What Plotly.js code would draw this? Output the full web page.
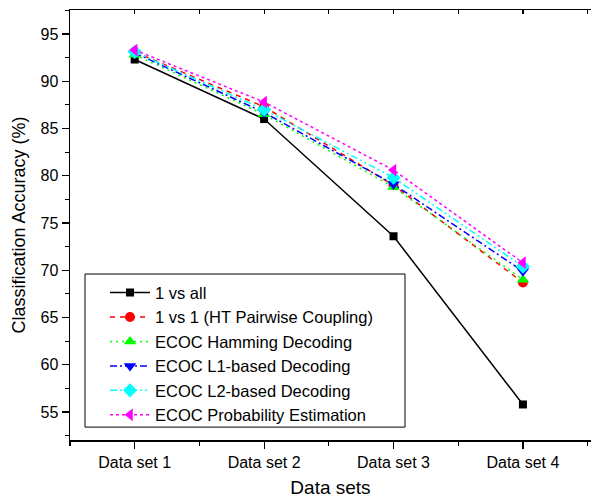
<!DOCTYPE html>
<html>
<head>
<meta charset="utf-8">
<script src="https://cdn.plot.ly/plotly-3.0.1.min.js"></script>
<style>html,body{margin:0;padding:0;background:#fff;}#chart{width:591px;height:498px;}</style>
</head>
<body>
<div id="chart"></div>
<script>
var categories = ["Data set 1", "Data set 2", "Data set 3", "Data set 4"];
var xPositions = [1, 2, 3, 4];
var oneVsAll = [92.3, 86.0, 73.6, 55.8];
var oneVsOne = [93.1, 87.3, 79.0, 68.7];
var ecocHamming = [92.8, 86.5, 78.8, 69.0];
var ecocL1 = [93.0, 86.7, 79.1, 69.9];
var ecocL2 = [93.1, 87.0, 79.8, 70.4];
var ecocProb = [93.3, 87.8, 80.6, 70.8];
var seriesNames = ["1 vs all", "1 vs 1 (HT Pairwise Coupling)", "ECOC Hamming Decoding",
  "ECOC L1-based Decoding", "ECOC L2-based Decoding", "ECOC Probability Estimation"];

var styles = [
  {color: "#000000", dash: "solid", symbol: "square", size: 8},
  {color: "#ff0000", dash: "5px,5px", symbol: "circle", size: 10},
  {color: "#00ff00", dash: "2px,4px", symbol: "triangle-up", size: 11},
  {color: "#0000ff", dash: "7px,3px,2px,3px", symbol: "triangle-down", size: 11},
  {color: "#00ffff", dash: "7px,3px,2px,3px,2px,3px", symbol: "diamond", size: 11},
  {color: "#ff00ff", dash: "3px,3px", symbol: "triangle-left", size: 11}
];
var allSeries = [oneVsAll, oneVsOne, ecocHamming, ecocL1, ecocL2, ecocProb];

var traces = allSeries.map(function (vals, i) {
  return {
    x: xPositions, y: vals, name: seriesNames[i], type: "scatter", mode: "lines+markers",
    line: {color: styles[i].color, width: 1.5, dash: styles[i].dash},
    marker: {color: styles[i].color, symbol: styles[i].symbol, size: styles[i].size}
  };
});
traces.push({x: [], y: [], xaxis: "x2", showlegend: false, hoverinfo: "skip", type: "scatter"});

var font = "'Liberation Sans', Arial, Helvetica, sans-serif";
var layout = {
  width: 591, height: 498,
  margin: {l: 70, r: 0, t: 10, b: 58},
  paper_bgcolor: "#fff", plot_bgcolor: "#fff",
  font: {family: font, color: "#000", size: 16},
  showlegend: true,
  legend: {
    x: 0.0672, y: 0.383, xanchor: "left", yanchor: "top",
    borderwidth: 0, bgcolor: "rgba(0,0,0,0)",
    font: {family: font, size: 16.5, color: "#000"},
    itemwidth: 40, tracegroupgap: 0
  },
  shapes: [{
    type: "rect", xref: "paper", yref: "paper",
    x0: 0.0288, x1: 0.643, y0: 0.03, y1: 0.386,
    line: {color: "#000", width: 1}, fillcolor: "rgba(255,255,255,1)", layer: "below"
  }],
  xaxis: {
    range: [0.5, 4.526], tickmode: "array", tickvals: xPositions, ticktext: categories,
    showgrid: false, zeroline: false, showline: true, linecolor: "#000", linewidth: 1.5,
    ticks: "outside", ticklen: 7, tickwidth: 1.2, tickcolor: "#000",
    minor: {tick0: 0.5, dtick: 1, ticks: "outside", ticklen: 4, tickcolor: "#000", tickwidth: 1.2, showgrid: false},
    tickfont: {size: 16},
    title: {text: "Data sets", font: {size: 19}, standoff: 16}
  },
  xaxis2: {
    overlaying: "x", side: "top", matches: "x", range: [0.5, 4.526],
    tickmode: "array", tickvals: xPositions, showticklabels: false,
    showgrid: false, zeroline: false, showline: true, linecolor: "#000", linewidth: 1.5,
    ticks: "inside", ticklen: 4, tickwidth: 1.2, tickcolor: "#000",
    minor: {tick0: 0.5, dtick: 1, ticks: "inside", ticklen: 4, tickcolor: "#000", tickwidth: 1.2, showgrid: false}
  },
  yaxis: {
    range: [52.04, 97.54], tickmode: "linear", tick0: 55, dtick: 5,
    showgrid: false, zeroline: false, showline: true, linecolor: "#000", linewidth: 1.5,
    ticks: "outside", ticklen: 7, tickwidth: 1.2, tickcolor: "#000",
    minor: {tick0: 52.5, dtick: 2.5, ticks: "outside", ticklen: 4, tickcolor: "#000", tickwidth: 1.2, showgrid: false},
    tickfont: {size: 16},
    title: {text: "Classification Accuracy (%)", font: {size: 18}, standoff: 10}
  }
};
Plotly.newPlot("chart", traces, layout, {displayModeBar: false, staticPlot: true});
</script>
</body>
</html>
